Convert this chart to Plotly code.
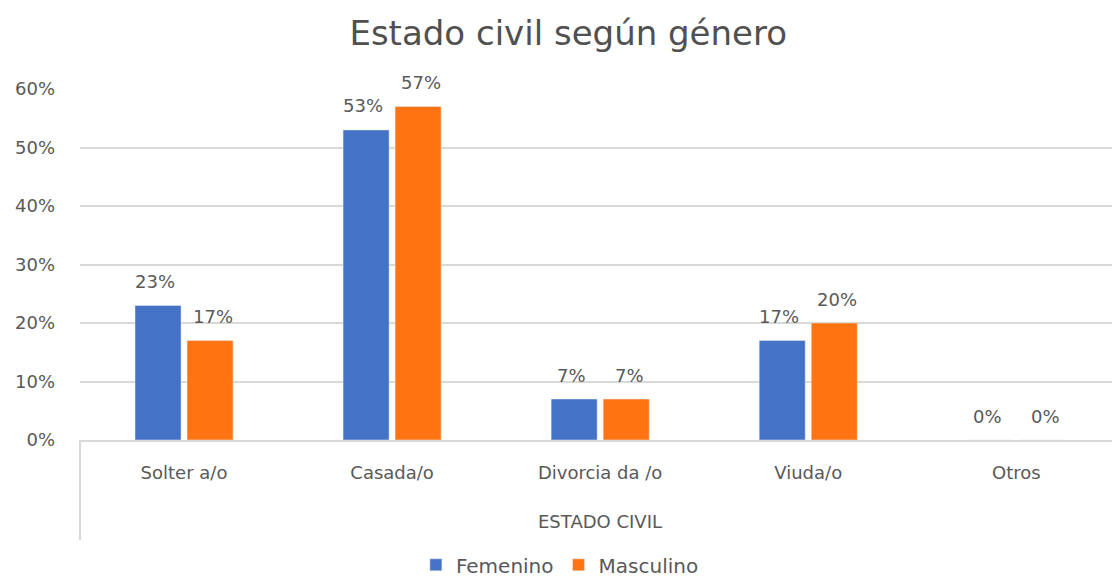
import plotly.graph_objects as go

categorias = ["Solter a/o", "Casada/o", "Divorcia da /o", "Viuda/o", "Otros"]
femenino = [0.23, 0.53, 0.07, 0.17, 0.0]
masculino = [0.17, 0.57, 0.07, 0.20, 0.0]
y_ticks = [0, 0.1, 0.2, 0.3, 0.4, 0.5, 0.6]

FONT = "DejaVu Sans"
GRAY = "#595959"
SZ = 18

fig = go.Figure()
fig.add_trace(go.Bar(name="Femenino", x=categorias, y=femenino, marker_color="#4472C4"))
fig.add_trace(go.Bar(name="Masculino", x=categorias, y=masculino, marker_color="#FF7410"))

annotations = []
for serie, shift in ((femenino, -29), (masculino, 29)):
    for c, v in zip(categorias, serie):
        annotations.append(dict(x=c, y=v, xref="x", yref="y", text=f"{v:.0%}", showarrow=False,
                                xshift=shift, yshift=24, yanchor="middle",
                                font=dict(size=SZ, color=GRAY, family=FONT)))
annotations.append(dict(x=0.504, y=-81 / 351, xref="paper", yref="paper", text="ESTADO CIVIL",
                        showarrow=False, xanchor="center", yanchor="middle",
                        font=dict(size=SZ, color=GRAY, family=FONT)))

fig.update_layout(
    width=1112, height=582,
    margin=dict(l=80, r=0, t=89, b=142, autoexpand=False),
    paper_bgcolor="white", plot_bgcolor="white",
    barmode="group", bargap=0.5, bargroupgap=0.115,
    font=dict(family=FONT, color=GRAY, size=SZ),
    title=dict(text="Estado civil según género", x=0.511, xanchor="center", y=0.943, yanchor="middle",
               font=dict(size=34, color="#505050", family=FONT)),
    legend=dict(orientation="h", x=0.465, xanchor="center", y=-0.30, yanchor="top",
                font=dict(size=20, color=GRAY), itemwidth=30),
    showlegend=True,
    annotations=annotations,
)
fig.update_yaxes(range=[0, 0.6], tickvals=y_ticks, tickformat=".0%", showgrid=True,
                 gridcolor="#D9D9D9", gridwidth=1.5, zeroline=False, showline=False,
                 automargin=False, ticklabelstandoff=24, tickfont=dict(size=SZ, color=GRAY))
fig.update_xaxes(range=[-0.5, 4.46], showline=True, linecolor="#D9D9D9", linewidth=2, ticks="",
                 automargin=False, ticklabelstandoff=15, tickfont=dict(size=SZ, color=GRAY))
fig.add_shape(type="line", xref="paper", yref="paper", x0=0, x1=0, y0=0, y1=-100 / 351,
              line=dict(color="#D9D9D9", width=2))

fig.write_html("out.html", config={"displayModeBar": False},
               post_script="document.body.style.margin='0';")
